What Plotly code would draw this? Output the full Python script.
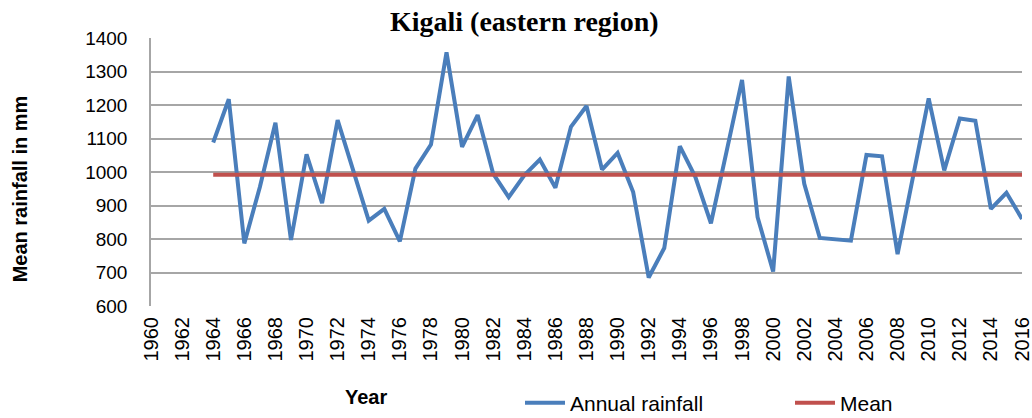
import plotly.graph_objects as go

years = list(range(1964, 2017))
annual_rainfall = [
    1088, 1217, 787, 955, 1147, 797, 1053, 907, 1155, 1005,
    855, 890, 793, 1010, 1082, 1357, 1075, 1170, 995, 925,
    990, 1037, 953, 1135, 1197, 1007, 1057, 940, 685, 773,
    1077, 985, 847, 1060, 1275, 865, 703, 1285, 965, 803,
    799, 795, 1051, 1047, 755, 985, 1220, 1005, 1160, 1153,
    890, 938, 860,
]
mean_value = 992
mean_line = [mean_value] * len(years)

font_sans = "Liberation Sans"

fig = go.Figure()
fig.add_trace(go.Scatter(
    x=years, y=annual_rainfall, mode="lines", name="Annual rainfall",
    line=dict(color="#4a7ebb", width=4),
))
fig.add_trace(go.Scatter(
    x=years, y=mean_line, mode="lines", name="Mean",
    line=dict(color="#c0504d", width=4),
))

fig.update_layout(
    width=1032, height=418,
    margin=dict(l=151, r=10, t=38, b=112),
    paper_bgcolor="white", plot_bgcolor="white",
    font=dict(family=font_sans, size=17, color="black"),
    showlegend=True,
    legend=dict(
        orientation="h", xref="container", yref="container",
        x=520 / 1032, y=(418 - 403) / 418, xanchor="left", yanchor="middle",
        font=dict(size=21), itemwidth=40,
        entrywidth=215, entrywidthmode="pixels",
    ),
    xaxis=dict(
        range=[1960, 2016], dtick=2, tick0=1960, tickangle=-90,
        showgrid=False, zeroline=False, showline=False, ticks="",
        tickfont=dict(size=20), automargin=False, ticklabelstandoff=6,
        ticklabeloverflow="allow",
    ),
    yaxis=dict(
        range=[600, 1400], dtick=100, showgrid=True, gridcolor="#a6a6a6",
        gridwidth=1.5, zeroline=False, showline=True, linecolor="#a6a6a6",
        linewidth=1.5, ticks="", ticklabelstandoff=18,
        tickfont=dict(size=19), automargin=False,
    ),
    annotations=[
        dict(text="<b>Kigali (eastern region)</b>", x=0.429, y=1.063,
             xref="paper", yref="paper", xanchor="center",
             yanchor="middle", showarrow=False,
             font=dict(family="Liberation Serif", size=28)),
        dict(text="<b>Mean rainfall in mm</b>", x=-0.151, y=0.437,
             xref="paper", yref="paper", xanchor="center", yanchor="middle",
             showarrow=False, textangle=-90, font=dict(size=20)),
        dict(text="<b>Year</b>", x=0.247, y=-0.34, xref="paper", yref="paper",
             xanchor="center", yanchor="middle", showarrow=False,
             font=dict(size=20)),
    ],
)

# page body has a default 8px margin; remove it so the figure fills the window
fig.write_html("out.html", config={"displayModeBar": False},
               post_script="document.body.style.margin='0';")
